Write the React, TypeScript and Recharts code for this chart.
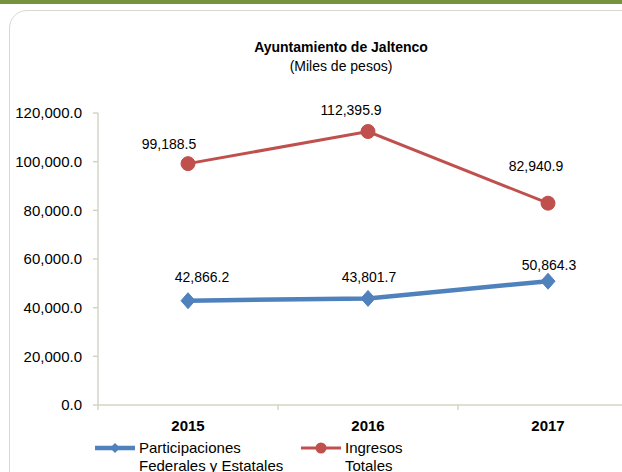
import React from "react";
import { LineChart, Line, XAxis, YAxis, Legend, LabelList } from "recharts";

// values (miles de pesos)
const years = ["2015", "2016", "2017"];
const participaciones = [42866.2, 43801.7, 50864.3];
const ingresosTotales = [99188.5, 112395.9, 82940.9];
const yTicks = [0, 20000, 40000, 60000, 80000, 100000, 120000];

const data = years.map((year, i) => ({
  year,
  participaciones: participaciones[i],
  ingresos: ingresosTotales[i],
}));

const BLUE = "#4f81bd";
const RED = "#c0504d";
const AXIS = "#d4d4c6";
const FONT = "'Liberation Sans', Arial, sans-serif";

const CHART_W = 643;
const CHART_H = 472;
const Y_AXIS_W = 98;
const MARGIN = { top: 113, right: 5, bottom: 37, left: 0 };
const HALF_BAND = (CHART_W - Y_AXIS_W - MARGIN.left - MARGIN.right) / years.length / 2;

// label nudges relative to each point (Excel manual placement)
const blueLabelShift = [
  [14, -24],
  [1, -21],
  [1, -16],
];
const redLabelShift = [
  [-19, -20],
  [-17, -22],
  [-12, -37],
];

const fmt = (v: number) =>
  v.toLocaleString("en-US", { minimumFractionDigits: 1, maximumFractionDigits: 1 });

const Diamond = (props: any) => {
  const { cx, cy } = props;
  if (cx == null || cy == null) return null;
  return (
    <polygon
      points={`${cx},${cy - 8} ${cx + 7},${cy} ${cx},${cy + 8} ${cx - 7},${cy}`}
      fill={BLUE}
      stroke={BLUE}
    />
  );
};

const RedDot = (props: any) => {
  const { cx, cy } = props;
  if (cx == null || cy == null) return null;
  return <circle cx={cx} cy={cy} r={7} fill={RED} stroke={RED} />;
};

const makeLabel = (shifts: number[][]) => (props: any) => {
  const { x, y, value, index } = props;
  const [dx, dy] = shifts[index] || [0, -20];
  return (
    <text
      x={x + dx}
      y={y + dy}
      textAnchor="middle"
      dominantBaseline="central"
      fontSize={14}
      fontFamily={FONT}
      fill="#000"
    >
      {fmt(value)}
    </text>
  );
};

const XTick = (props: any) => {
  const { x, y, payload } = props;
  return (
    <g>
      <line x1={x - HALF_BAND} y1={y - 8} x2={x - HALF_BAND} y2={y - 3} stroke={AXIS} strokeWidth={1.5} />
      <text
        x={x}
        y={y + 12}
        textAnchor="middle"
        dominantBaseline="central"
        fontSize={15}
        fontWeight="bold"
        fontFamily={FONT}
        fill="#000"
      >
        {payload.value}
      </text>
    </g>
  );
};

const LegendContent = () => {
  const items = [
    { color: BLUE, lines: ["Participaciones", "Federales y Estatales"], marker: "diamond", w: 4.5 },
    { color: RED, lines: ["Ingresos", "Totales"], marker: "circle", w: 3 },
  ];
  return (
    <div style={{ display: "flex", fontFamily: FONT, fontSize: 15, lineHeight: "18px", color: "#000" }}>
      {items.map((it, i) => (
        <div key={i} style={{ display: "flex", alignItems: "flex-start", width: i === 0 ? 206 : 150 }}>
          <svg width={44} height={18} style={{ flex: "none" }}>
            <line x1={0} y1={9} x2={40} y2={9} stroke={it.color} strokeWidth={it.w} />
            {it.marker === "diamond" ? (
              <polygon points="20,4 25,9 20,14 15,9" fill={it.color} />
            ) : (
              <circle cx={20} cy={9} r={5.5} fill={it.color} />
            )}
          </svg>
          <div>
            {it.lines.map((l) => (
              <div key={l}>{l}</div>
            ))}
          </div>
        </div>
      ))}
    </div>
  );
};

export default function App() {
  return (
    <div
      style={{
        position: "fixed",
        left: 0,
        top: 0,
        width: 622,
        height: 472,
        overflow: "hidden",
        background: "#fff",
        fontFamily: FONT,
      }}
    >
      <div style={{ position: "absolute", left: 0, top: 0, width: 622, height: 4, background: "#76923c" }} />
      <div
        style={{
          position: "absolute",
          left: 9,
          top: 10,
          width: 700,
          height: 600,
          border: "1.5px solid #d9d9cf",
          borderRadius: 18,
        }}
      />
      <div
        style={{
          position: "absolute",
          left: 0,
          top: 38,
          width: 682,
          textAlign: "center",
          fontSize: 14,
          lineHeight: "19px",
          color: "#000",
        }}
      >
        <div style={{ fontWeight: "bold" }}>Ayuntamiento de Jaltenco</div>
        <div>(Miles de pesos)</div>
      </div>
      <div style={{ position: "absolute", left: 0, top: 0 }}>
        <LineChart width={CHART_W} height={CHART_H} data={data} margin={MARGIN}>
          <XAxis
            dataKey="year"
            axisLine={{ stroke: AXIS, strokeWidth: 1.5 }}
            tickLine={false}
            tick={<XTick />}
            height={30}
            interval={0}
            padding={{ left: HALF_BAND, right: HALF_BAND }}
          />
          <YAxis
            domain={[0, 120000]}
            ticks={yTicks}
            width={Y_AXIS_W}
            axisLine={{ stroke: AXIS, strokeWidth: 1.5 }}
            tickLine={{ stroke: AXIS, strokeWidth: 1.5 }}
            tickSize={5}
            tickMargin={11}
            tickFormatter={fmt}
            tick={{ fill: "#000", fontSize: 15, fontFamily: FONT }}
            interval={0}
          />
          <Legend
            verticalAlign="middle"
            align="center"
            layout="horizontal"
            content={<LegendContent />}
            wrapperStyle={{ top: 439, left: 95, width: 420 }}
          />
          <Line
            type="linear"
            dataKey="participaciones"
            name="Participaciones Federales y Estatales"
            stroke={BLUE}
            strokeWidth={4.5}
            dot={<Diamond />}
            activeDot={false}
            isAnimationActive={false}
          >
            <LabelList dataKey="participaciones" content={makeLabel(blueLabelShift)} />
          </Line>
          <Line
            type="linear"
            dataKey="ingresos"
            name="Ingresos Totales"
            stroke={RED}
            strokeWidth={3}
            dot={<RedDot />}
            activeDot={false}
            isAnimationActive={false}
          >
            <LabelList dataKey="ingresos" content={makeLabel(redLabelShift)} />
          </Line>
        </LineChart>
      </div>
    </div>
  );
}
